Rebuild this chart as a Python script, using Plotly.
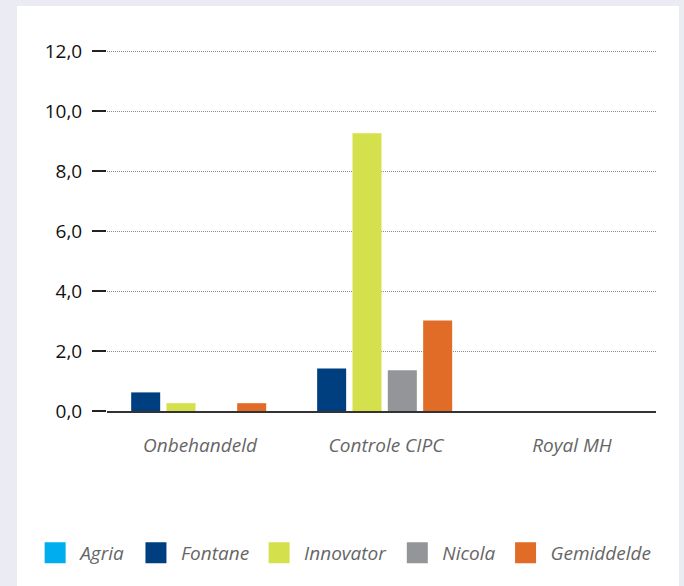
import plotly.graph_objects as go

categories = ["Onbehandeld", "Controle CIPC", "Royal MH"]
series_names = ["Agria", "Fontane", "Innovator", "Nicola", "Gemiddelde"]
agria = [None, None, None]
fontane = [0.62, 1.42, None]
innovator = [0.26, 9.26, None]
nicola = [None, 1.36, None]
gemiddelde = [0.26, 3.02, None]
y_ticks = [0, 2, 4, 6, 8, 10, 12]

colors = ["#00AEEF", "#003F7F", "#D5E04D", "#939598", "#E06C27"]
values = [agria, fontane, innovator, nicola, gemiddelde]
offsets = [None, -0.37, -0.18, 0.01, 0.20]

FONT = "Open Sans"
fig = go.Figure()

for name, vals, col, off in zip(series_names, values, colors, offsets):
    if off is not None:
        fig.add_trace(go.Bar(
            x=categories, y=vals, name=name, marker_color=col,
            marker_line_width=0, width=0.156, offset=off, showlegend=False,
        ))
    # legend entry
    fig.add_trace(go.Scatter(
        x=[None], y=[None], mode="markers", name=name,
        marker=dict(symbol="square", size=16, color=col,
                    line=dict(color=col, width=6)),
        showlegend=True,
    ))

W, H = 684, 586
YMAX = 12.1
L, R, B = 107, 656, 411
T = B - (B - 51) * YMAX / 12.0
PH = B - T

fig.update_layout(
    width=W, height=H,
    margin=dict(l=L, r=W - R, t=T, b=H - B),
    paper_bgcolor="#EBEBF4",
    plot_bgcolor="rgba(0,0,0,0)",
    barmode="overlay",
    separators=",.",
    showlegend=True,
    legend=dict(
        orientation="h", x=-0.14, xanchor="left", y=-(553 - B) / PH, yanchor="middle",
        font=dict(family=FONT, size=19, color="#666666", style="italic"),
        itemwidth=40, bgcolor="rgba(0,0,0,0)",
    ),
    shapes=[dict(type="rect", xref="paper", yref="paper",
                 x0=(17 - L) / (R - L), x1=(679 - L) / (R - L),
                 y0=(B - 586) / PH, y1=(B - 6) / PH,
                 fillcolor="white", line_width=0, layer="below")],
)

fig.update_xaxes(
    type="category", range=[-0.5, 2.452],
    showgrid=False, showline=True, linecolor="#333333", linewidth=2,
    ticks="", ticklabelstandoff=16,
    tickfont=dict(family=FONT, size=19, color="#666666", style="italic"),
    zeroline=False,
)
fig.update_yaxes(
    range=[0, YMAX], tickvals=y_ticks, tickformat=".1f",
    showgrid=True, gridcolor="#8a8a8a", griddash="1px,1px", gridwidth=1,
    ticks="outside", ticklen=14, tickcolor="#222222", tickwidth=1.5,
    ticklabelstandoff=6,
    tickfont=dict(family=FONT, size=19, color="#111111"),
    showline=False, zeroline=False,
)

fig.write_html(
    "out.html",
    config={"displayModeBar": False},
    post_script="document.body.style.margin='0';document.body.style.background='#EBEBF4';",
)
